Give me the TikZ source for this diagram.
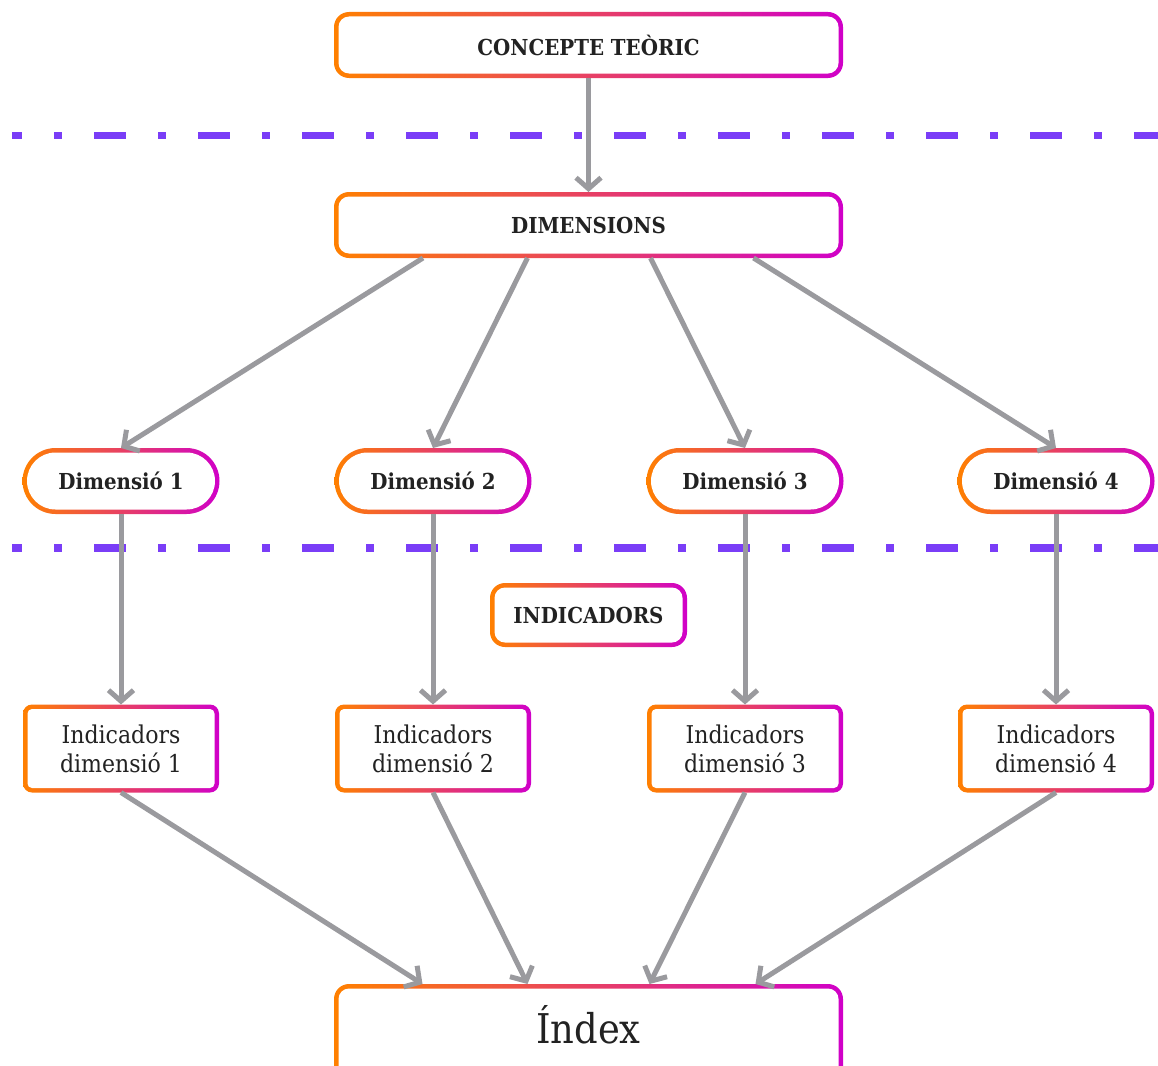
\documentclass[tikz,border=0pt]{standalone}
\usepackage{fontspec}
\setmainfont{DejaVu Serif Condensed}
\usetikzlibrary{arrows.meta,calc}

\definecolor{gOrange}{HTML}{FF8000}
\definecolor{gPink}{HTML}{FA0A78}
\definecolor{gMagenta}{HTML}{D000C8}
\definecolor{linkgray}{HTML}{9A9A9E}
\definecolor{sepviolet}{HTML}{7A3DF7}
\definecolor{ink}{HTML}{222222}

\tikzset{
  boxtext/.style={fill=white, draw=none, inner sep=0pt, outer sep=4.5pt,
    text=ink, align=center},
  headfont/.style={font=\fontsize{22}{26}\selectfont\bfseries},
  bodyfont/.style={font=\fontsize{24.5}{29}\selectfont},
  link/.style={draw=linkgray, line width=5pt,
    -{Straight Barb[length=11pt,width=25pt]}},
  separator/.style={draw=sepviolet, line width=7.5pt,
    dash pattern=on 32pt off 32pt on 8pt off 32pt, dash phase=22pt},
}

% gradient-framed box: [options]{name}{x}{y}{width}{height}{radius}{text}
\newcommand\gradbox[8][]{%
  \shade[left color=gOrange, middle color=gPink, right color=gMagenta,
    rounded corners=#7pt]
    ({#3-#5/2},{#4-#6/2}) rectangle ({#3+#5/2},{#4+#6/2});
  \node[boxtext, #1, minimum width={#5-9}, minimum height={#6-9},
    rounded corners={#7-4.5}] (#2) at (#3,#4) {#8};
}

\begin{document}
\begin{tikzpicture}[x=1pt, y=-1pt]
  \useasboundingbox (0,0) rectangle (1158,1065);
  \clip (0,0) rectangle (1158,1065);

  % level separators
  \draw[separator] (12,135.5) -- (1158,135.5);
  \draw[separator] (12,548) -- (1158,548);

  % top levels
  \gradbox[headfont]{concept}{588.5}{45}{509}{66}{15}{CONCEPTE TEÒRIC}
  \gradbox[headfont]{dims}{588.5}{225}{509}{66}{15}{DIMENSIONS}

  % dimensions
  \gradbox[headfont]{d1}{121}{481}{197}{66}{33}{Dimensió 1}
  \gradbox[headfont]{d2}{433}{481}{197}{66}{33}{Dimensió 2}
  \gradbox[headfont]{d3}{745}{481}{197}{66}{33}{Dimensió 3}
  \gradbox[headfont]{d4}{1056}{481}{197}{66}{33}{Dimensió 4}

  % indicators heading
  \gradbox[headfont]{ind}{588.5}{615}{197}{64}{15}{INDICADORS}

  % indicator boxes
  \gradbox[bodyfont]{i1}{121}{748.5}{196}{88}{9}{Indicadors\\dimensió 1}
  \gradbox[bodyfont]{i2}{433}{748.5}{196}{88}{9}{Indicadors\\dimensió 2}
  \gradbox[bodyfont]{i3}{745}{748.5}{196}{88}{9}{Indicadors\\dimensió 3}
  \gradbox[bodyfont]{i4}{1056}{748.5}{196}{88}{9}{Indicadors\\dimensió 4}

  % final index (runs past the lower edge)
  \gradbox[font=\fontsize{41}{45}\selectfont]{index}{588.5}{1034}{509}{100}{15}{\raisebox{20pt}{Índex}}

  % connectors
  \draw[link] (concept.south) -- (dims.north);
  \draw[link] ([xshift=-165.5pt]dims.south) -- (d1.north);
  \draw[link] ([xshift=-61pt]dims.south) -- (d2.north);
  \draw[link] ([xshift=62pt]dims.south) -- (d3.north);
  \draw[link] ([xshift=165pt]dims.south) -- (d4.north);

  \foreach \k in {1,2,3,4}
    \draw[link] (d\k.south) -- (i\k.north);

  \draw[link] (i1.south) -- ([xshift=-166pt]index.north);
  \draw[link] (i2.south) -- ([xshift=-61pt]index.north);
  \draw[link] (i3.south) -- ([xshift=61pt]index.north);
  \draw[link] (i4.south) -- ([xshift=167pt]index.north);
\end{tikzpicture}
\end{document}
